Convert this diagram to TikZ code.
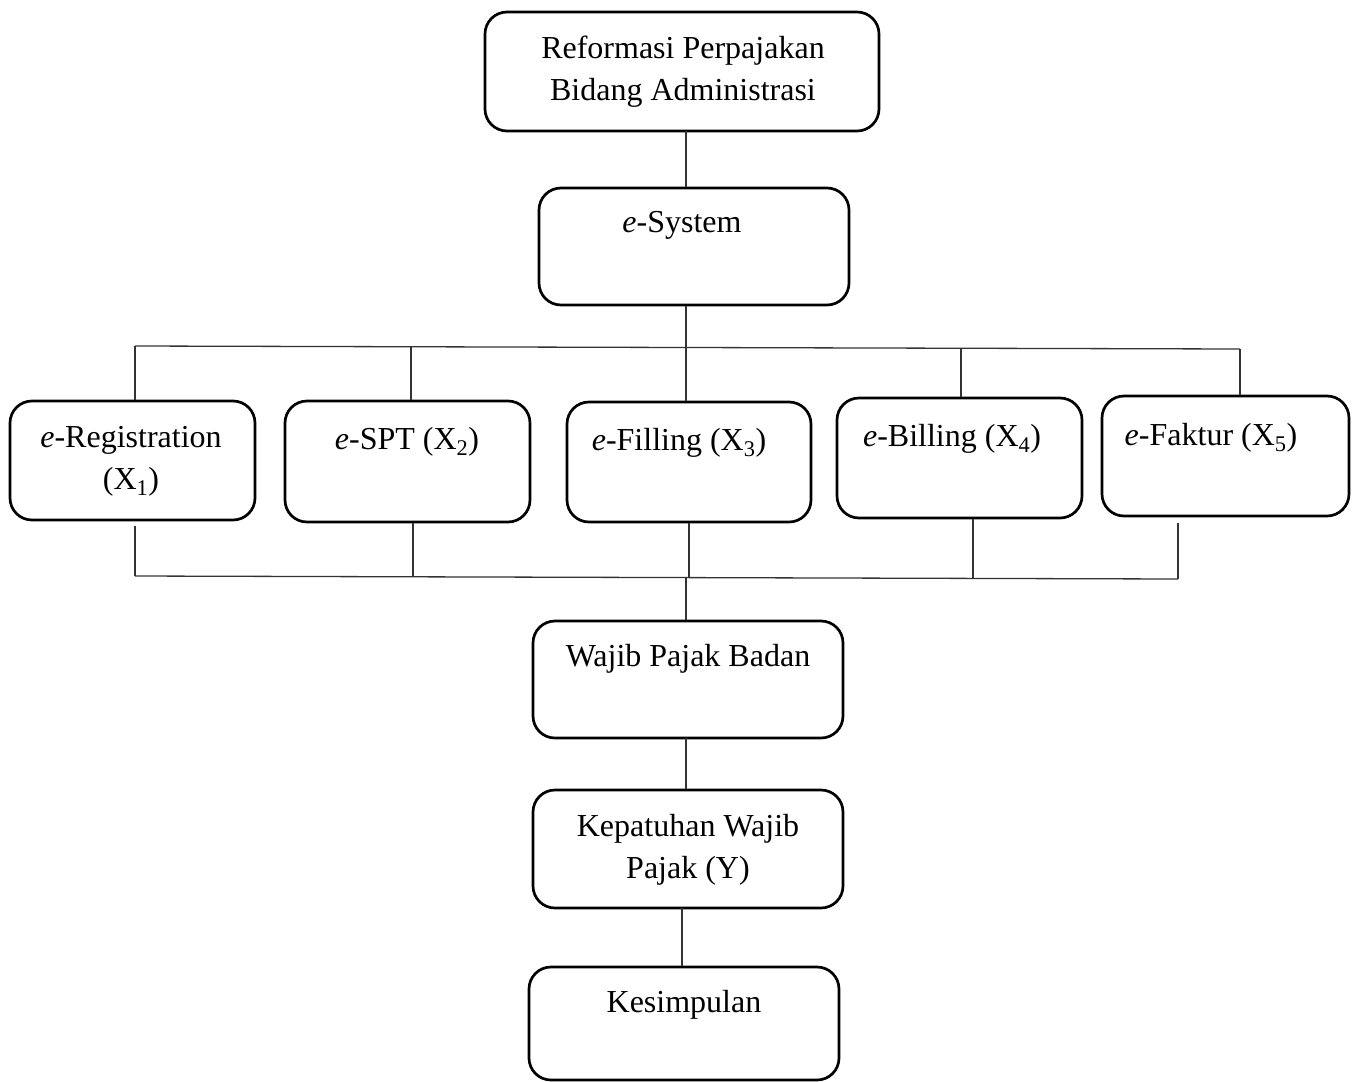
\documentclass[tikz,border=0pt]{standalone}
\usepackage{fontspec}
\setmainfont{Liberation Serif}
\usetikzlibrary{calc}
\tikzset{
  box/.style={draw=black, line width=2.7pt, rounded corners=22pt, inner sep=0pt},
  txt/.style={inner sep=0pt, align=center, font=\fontsize{32}{42}\selectfont},
  conn/.style={draw=black!80, line width=1.3pt},
}
\newcommand{\sbx}[1]{\textsubscript{#1}}
\begin{document}
\begin{tikzpicture}[x=1pt,y=-1pt]
\useasboundingbox (0,0) rectangle (1358,1082);
% boxes
\node[box, minimum width=394pt, minimum height=119pt] (b0) at (682,71.5) {};
\node[box, minimum width=310pt, minimum height=117pt] (b1) at (694,246.5) {};
\node[box, minimum width=245pt, minimum height=119pt] (b2) at (132.5,460.5) {};
\node[box, minimum width=245pt, minimum height=121pt] (b3) at (407.5,461.5) {};
\node[box, minimum width=244pt, minimum height=120pt] (b4) at (689,462) {};
\node[box, minimum width=245pt, minimum height=120pt] (b5) at (959.5,458) {};
\node[box, minimum width=247pt, minimum height=120pt] (b6) at (1225.5,456) {};
\node[box, minimum width=310pt, minimum height=117pt] (b7) at (688,679.5) {};
\node[box, minimum width=310pt, minimum height=118pt] (b8) at (688,849) {};
\node[box, minimum width=310pt, minimum height=113pt] (b9) at (684,1023.5) {};
% texts
\node[txt] (t0) at (683,72) {Reformasi Perpajakan\\Bidang Administrasi};
\node[txt] (t1) at (682,225) {\textit{e}-System};
\node[txt] (t2) at (131,461) {\textit{e}-Registration\\(X\sbx{1})};
\node[txt] (t3) at (407,442) {\textit{e}-SPT (X\sbx{2})};
\node[txt] (t4) at (679,443) {\textit{e}-Filling (X\sbx{3})};
\node[txt] (t5) at (952,439) {\textit{e}-Billing (X\sbx{4})};
\node[txt] (t6) at (1211,438) {\textit{e}-Faktur (X\sbx{5})};
\node[txt] (t7) at (688,659) {Wajib Pajak Badan};
\node[txt] (t8) at (688,850) {Kepatuhan Wajib\\Pajak (Y)};
\node[txt] (t9) at (684,1005) {Kesimpulan};
% connector coordinates
\coordinate (c0) at (686,131);
\coordinate (ta) at (135,346);
\coordinate (tb) at (411,347);
\coordinate (tc) at (686,347.5);
\coordinate (td) at (961,348);
\coordinate (te) at (1240,349);
\coordinate (ba) at (135,576);
\coordinate (bb) at (413,576.5);
\coordinate (bc) at (689,577);
\coordinate (bd) at (973,578);
\coordinate (be) at (1178,579);
% connectors
\draw[conn] (c0) -- (c0 |- b1.north);
\draw[conn] (tc |- b1.south) -- (tc);
\draw[conn] (ta) -- (te);
\draw[conn] (ta) -- (ta |- b2.north);
\draw[conn] (tb) -- (tb |- b3.north);
\draw[conn] (tc) -- (tc |- b4.north);
\draw[conn] (td) -- (td |- b5.north);
\draw[conn] (te) -- (te |- b6.north);
\draw[conn] ($(ba |- b2.south)+(0,5)$) -- (ba);
\draw[conn] (bb |- b3.south) -- (bb);
\draw[conn] (bc |- b4.south) -- (bc);
\draw[conn] (bd |- b5.south) -- (bd);
\draw[conn] ($(be |- b6.south)+(0,6)$) -- (be);
\draw[conn] (ba) -- (be);
\draw[conn] (686,577) coordinate (m0) -- (m0 |- b7.north);
\draw[conn] (686,738) coordinate (m1) -- (m1 |- b8.north);
\draw[conn] (682,908) coordinate (m2) -- (m2 |- b9.north);
\end{tikzpicture}
\end{document}
